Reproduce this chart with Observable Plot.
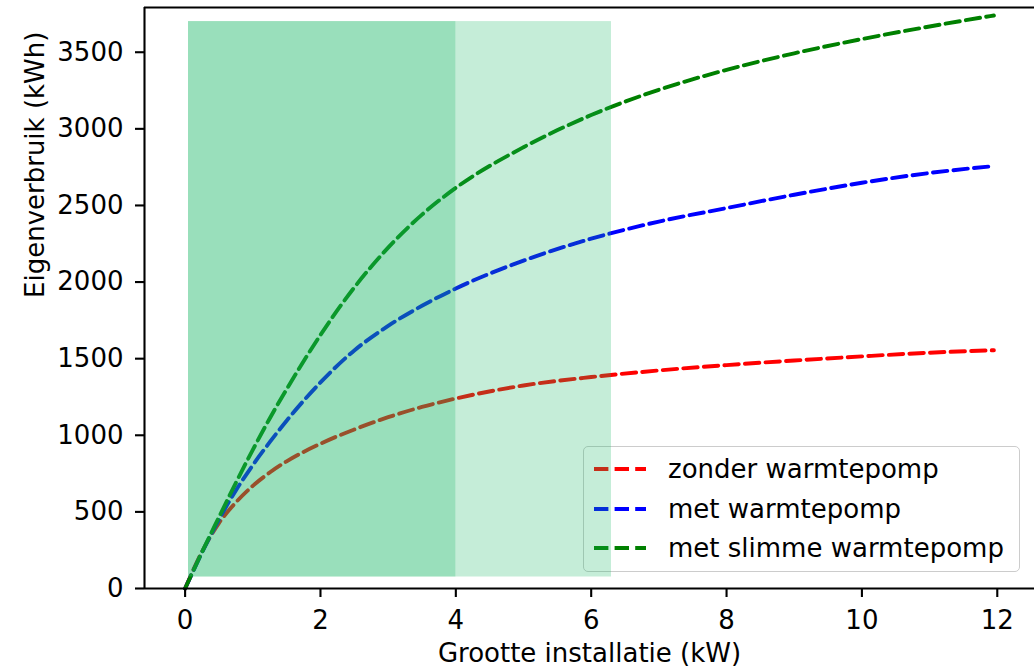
<!DOCTYPE html>
<html><head><meta charset="utf-8">
<script src="https://cdn.jsdelivr.net/npm/d3@7"></script>
<script src="https://cdn.jsdelivr.net/npm/@observablehq/plot@0.6"></script>
<style>
html,body{margin:0;padding:0;background:#fff;}
#wrap{position:relative;width:1034px;height:670px;font-family:"DejaVu Sans",sans-serif;}
#legend{position:absolute;left:583px;top:446px;width:437px;height:126px;border:1.5px solid #cccccc;border-radius:5px;background:rgba(255,255,255,0.8);z-index:0;box-sizing:border-box;}
#legend .row{position:absolute;left:0;height:40px;width:100%;}
#legend svg{position:absolute;left:8px;top:0;}
#legend span{position:absolute;left:84px;top:0;line-height:40px;font-size:26px;color:#000;white-space:nowrap;}
#chart{position:absolute;left:0;top:0;z-index:1;}
</style></head><body>
<div id="wrap"><div id="legend"></div><div id="chart"></div></div>
<script>
// Installation size (kW)
const kW = [0, 0.25, 0.5, 0.75, 1, 1.25, 1.5, 2, 2.5, 3, 3.5, 4, 5, 6, 7, 8, 9, 10, 11, 11.95];
// Self-consumption (kWh)
const zonderWarmtepomp = [0, 240, 427, 562, 670, 757, 830, 945, 1038, 1118, 1185, 1240, 1325, 1380, 1423, 1458, 1488, 1515, 1539, 1555];
const metWarmtepomp = [0, 235, 450, 640, 805, 955, 1095, 1345, 1554, 1714, 1845, 1958, 2140, 2283, 2395, 2483, 2570, 2648, 2712, 2757];
const metSlimmeWarmtepomp = [0, 238, 465, 690, 905, 1110, 1300, 1655, 1965, 2225, 2440, 2615, 2880, 3090, 3255, 3385, 3493, 3586, 3668, 3740];
const seriesNames = ["zonder warmtepomp", "met warmtepomp", "met slimme warmtepomp"];
const seriesColors = ["red", "blue", "green"];
const seriesValues = [zonderWarmtepomp, metWarmtepomp, metSlimmeWarmtepomp];
// Shaded zones (kW ranges, kWh range)
const zoneStart = [0.05, 0.05];
const zoneEnd = [6.3, 4];
const zoneBottom = 75;
const zoneTop = 3700;
const xTicks = [0, 2, 4, 6, 8, 10, 12];
const yTicks = [0, 500, 1000, 1500, 2000, 2500, 3000, 3500];

const zones = zoneStart.map((s, i) => ({x1: s, x2: zoneEnd[i], y1: zoneBottom, y2: zoneTop}));

const lineMarks = seriesNames.map((name, k) =>
  Plot.line(kW.map((x, i) => ({x, y: seriesValues[k][i], name})), {
    x: "x", y: "y", stroke: seriesColors[k], strokeWidth: 3.9,
    strokeDasharray: "14.4,6.2", curve: "monotone-x"
  })
);

const chart = Plot.plot({
  width: 1034, height: 670,
  marginLeft: 144, marginRight: 0, marginTop: 7, marginBottom: 82,
  style: {background: "transparent", fontFamily: "DejaVu Sans", fontSize: "26px", color: "black"},
  x: {domain: [-0.6, 12.55]},
  y: {domain: [0, 3792]},
  marks: [
    ...lineMarks,
    Plot.rect(zones, {x1: "x1", x2: "x2", y1: "y1", y2: "y2", fill: "#17b763", fillOpacity: 0.25}),
    Plot.ruleX([-0.6], {stroke: "black", strokeWidth: 2.1}),
    Plot.ruleY([0], {stroke: "black", strokeWidth: 2.1}),
    Plot.ruleY([3792], {stroke: "black", strokeWidth: 2.1}),
    Plot.axisX({ticks: xTicks, tickSize: 9, tickPadding: 13, strokeWidth: 2.1, fontSize: 26, label: null, tickFormat: d => String(d)}),
    Plot.axisY({ticks: yTicks, tickSize: 9, tickPadding: 12, strokeWidth: 2.1, fontSize: 26, label: null, tickFormat: d => String(d)}),
    Plot.text(["Grootte installatie (kW)"], {text: d => d, frameAnchor: "bottom", lineAnchor: "top", dy: 55, fontSize: 26, fill: "black"}),
    Plot.text(["Eigenverbruik (kWh)"], {text: d => d, frameAnchor: "left", rotate: -90, dx: -109, fontSize: 26, fill: "black"})
  ]
});
document.getElementById("chart").appendChild(chart);

const legend = document.getElementById("legend");
const rowTops = [2, 42, 81];
seriesNames.forEach((name, k) => {
  const row = document.createElement("div");
  row.className = "row";
  row.style.top = rowTops[k] + "px";
  row.innerHTML = `<svg width="56" height="40"><line x1="2" x2="54" y1="20" y2="20" stroke="${seriesColors[k]}" stroke-width="3.9" stroke-dasharray="14.4,6.2"/></svg><span>${name}</span>`;
  legend.appendChild(row);
});
</script>
</body></html>
